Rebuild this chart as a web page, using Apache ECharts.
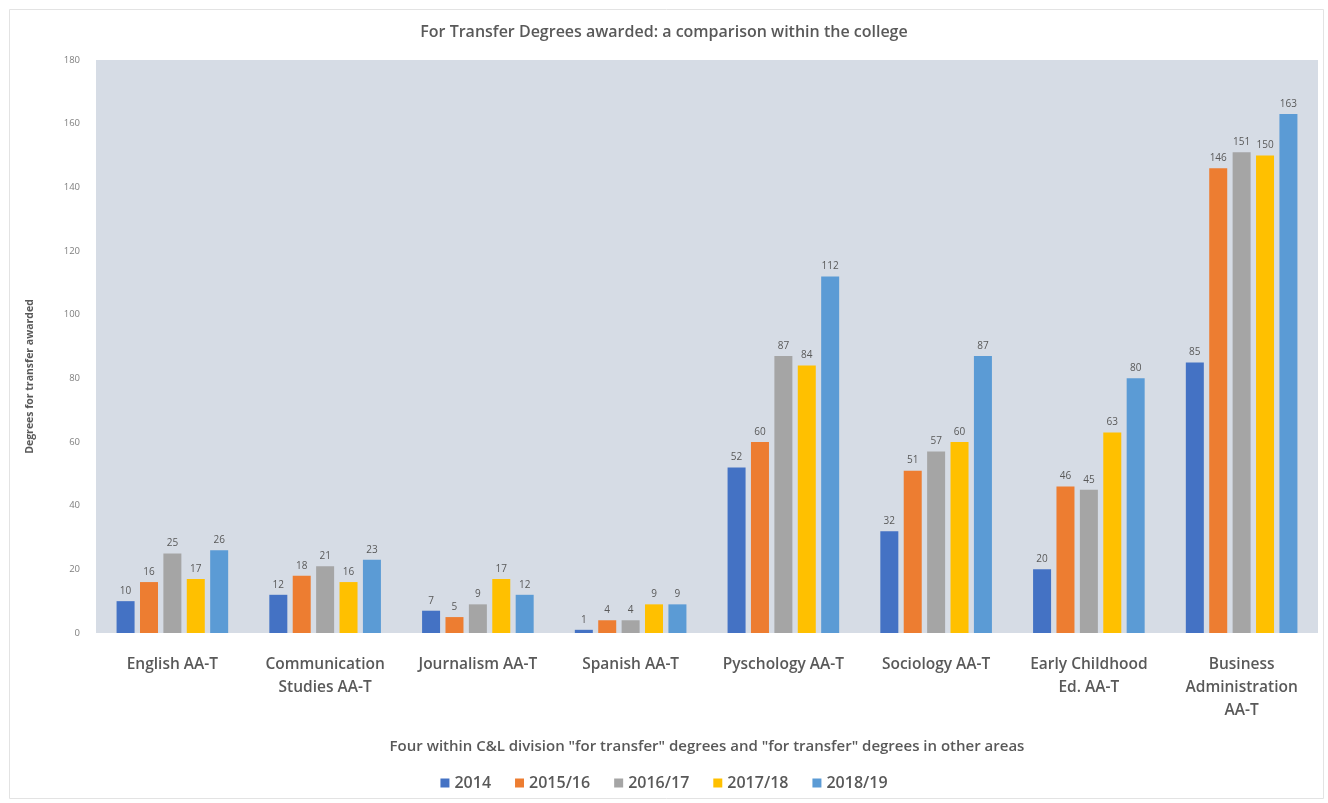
<!DOCTYPE html>
<html>
<head>
<meta charset="utf-8">
<script src="https://cdn.jsdelivr.net/npm/echarts@6/dist/echarts.min.js"></script>
<style>
html,body{margin:0;padding:0;background:#fff;}
#c{width:1328px;height:803px;}
</style>
</head>
<body>
<div id="c"></div>
<script>
const categories = ["English AA-T", "Communication\nStudies AA-T", "Journalism AA-T", "Spanish AA-T", "Pyschology AA-T", "Sociology AA-T", "Early Childhood\nEd. AA-T", "Business\nAdministration\nAA-T"];
const seriesNames = ["2014", "2015/16", "2016/17", "2017/18", "2018/19"];
const v2014 = [10, 12, 7, 1, 52, 32, 20, 85];
const v2015 = [16, 18, 5, 4, 60, 51, 46, 146];
const v2016 = [25, 21, 9, 4, 87, 57, 45, 151];
const v2017 = [17, 16, 17, 9, 84, 60, 63, 150];
const v2018 = [26, 23, 12, 9, 112, 87, 80, 163];
const colors = ["#4472C4", "#ED7D31", "#A5A5A5", "#FFC000", "#5B9BD5"];
const values = [v2014, v2015, v2016, v2017, v2018];

const FONT = "'Open Sans', Lato, sans-serif";
const chart = echarts.init(document.getElementById('c'), null, {renderer: 'canvas'});
chart.setOption({
  animation: false,
  backgroundColor: '#ffffff',
  color: colors,
  textStyle: {fontFamily: FONT},
  graphic: [{
    type: 'rect', left: 7, top: 7, shape: {width: 1314, height: 789},
    style: {fill: 'none', stroke: '#e3e3e3', lineWidth: 1}, z: -1
  }],
  title: {
    text: 'For Transfer Degrees awarded: a comparison within the college',
    left: 'center', top: 19,
    textStyle: {fontSize: 16, fontWeight: 600, color: '#595959', fontFamily: FONT}
  },
  legend: {
    data: seriesNames, bottom: 7, left: 'center',
    itemWidth: 9, itemHeight: 9, itemGap: 24, icon: 'rect',
    textStyle: {fontSize: 16, fontWeight: 600, color: '#595959', fontFamily: FONT}
  },
  grid: {
    left: 96, right: 10, top: 60, bottom: 170,
    show: true, backgroundColor: '#D6DCE5', borderWidth: 0
  },
  xAxis: {
    type: 'category', data: categories,
    name: 'Four within C&L division "for transfer" degrees and "for transfer" degrees in other areas',
    nameLocation: 'middle', nameGap: 106,
    nameTextStyle: {fontSize: 15, fontWeight: 600, color: '#595959', fontFamily: FONT},
    axisLine: {show: false}, axisTick: {show: false},
    axisLabel: {fontSize: 15.5, fontWeight: 600, color: '#595959', margin: 20, lineHeight: 23, interval: 0, fontFamily: FONT}
  },
  yAxis: {
    type: 'value', min: 0, max: 180, interval: 20,
    name: 'Degrees for transfer awarded',
    nameLocation: 'middle', nameGap: 60, nameRotate: 90,
    nameTextStyle: {fontSize: 10.5, fontWeight: 'bold', color: '#595959', fontFamily: FONT, padding: [0, 60, 0, 0]},
    axisLine: {show: false}, axisTick: {show: false},
    splitLine: {show: false},
    axisLabel: {fontSize: 9.5, color: '#7f7f7f', margin: 16, fontFamily: FONT}
  },
  series: seriesNames.map((n, i) => ({
    name: n, type: 'bar', data: values[i],
    barWidth: 18, barGap: '30%',
    itemStyle: {color: colors[i]},
    label: {show: true, position: 'top', fontSize: 10, color: '#595959', distance: 5, fontFamily: FONT}
  }))
});
</script>
</body>
</html>
